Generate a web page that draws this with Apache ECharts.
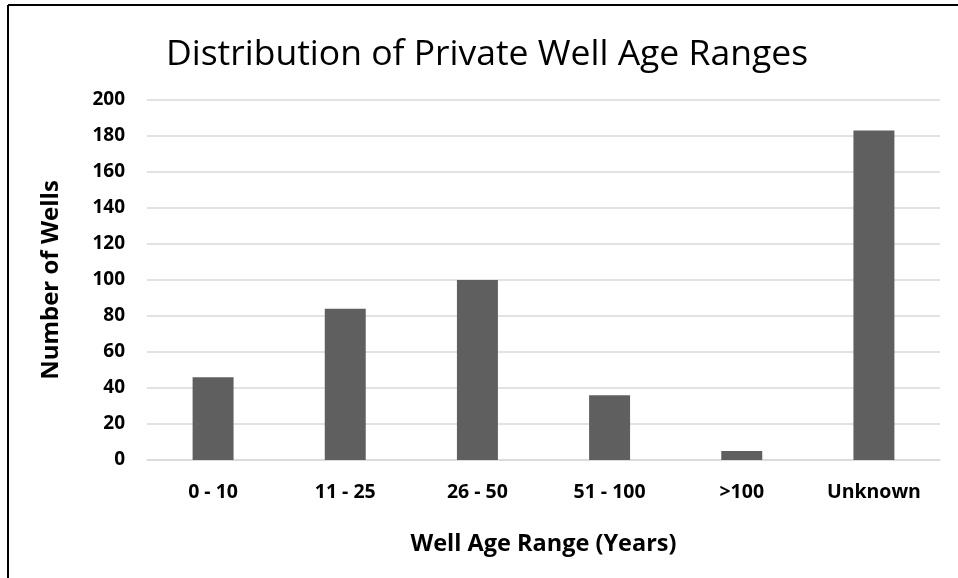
<!DOCTYPE html>
<html>
<head>
<meta charset="utf-8">
<script src="https://cdn.jsdelivr.net/npm/echarts@6/dist/echarts.min.js"></script>
<style>
html,body{margin:0;padding:0;background:#fff;}
#chart{width:958px;height:578px;}
</style>
</head>
<body>
<div id="chart"></div>
<script>
var titleText = 'Distribution of Private Well Age Ranges';
var categories = ['0 - 10', '11 - 25', '26 - 50', '51 - 100', '>100', 'Unknown'];
var wells = [46, 84, 100, 36, 5, 183];
var yMin = 0, yMax = 200, yStep = 20;
var xName = 'Well Age Range (Years)';
var yName = 'Number of Wells';

var chart = echarts.init(document.getElementById('chart'), null, {renderer: 'canvas'});
var font = '"Open Sans", "Noto Sans", sans-serif';
chart.setOption({
  backgroundColor: '#fff',
  animation: false,
  title: {
    text: titleText,
    left: 482, top: 32, textAlign: 'center',
    textStyle: {fontFamily: font, fontSize: 35.5, fontWeight: 'normal', color: '#000'}
  },
  graphic: [
    {type: 'line', shape: {x1: 8, y1: 5, x2: 958, y2: 5}, style: {stroke: '#000', lineWidth: 2}},
    {type: 'line', shape: {x1: 8, y1: 5, x2: 8, y2: 578}, style: {stroke: '#000', lineWidth: 2}}
  ],
  grid: {left: 147, right: 18, top: 100, bottom: 118, containLabel: false},
  xAxis: {
    type: 'category',
    data: categories,
    name: xName,
    nameLocation: 'middle',
    nameGap: 72,
    nameTextStyle: {fontFamily: font, fontSize: 23.5, fontWeight: 'bold', color: '#000'},
    axisLine: {show: true, lineStyle: {color: '#d9d9d9', width: 1.5}},
    axisTick: {show: false},
    axisLabel: {fontFamily: font, fontSize: 19.5, fontWeight: 'bold', color: '#000', margin: 22, interval: 0}
  },
  yAxis: {
    type: 'value',
    min: yMin, max: yMax, interval: yStep,
    name: yName,
    nameLocation: 'middle',
    nameGap: 84,
    nameTextStyle: {fontFamily: font, fontSize: 24, fontWeight: 'bold', color: '#000'},
    axisLine: {show: false},
    axisTick: {show: false},
    splitLine: {lineStyle: {color: '#d9d9d9', width: 1.5}},
    axisLabel: {fontFamily: font, fontSize: 19, fontWeight: 'bold', color: '#000', margin: 22}
  },
  series: [{
    type: 'bar',
    data: wells,
    barCategoryGap: '69%',
    itemStyle: {color: '#5f5f5f'}
  }]
});
</script>
</body>
</html>
